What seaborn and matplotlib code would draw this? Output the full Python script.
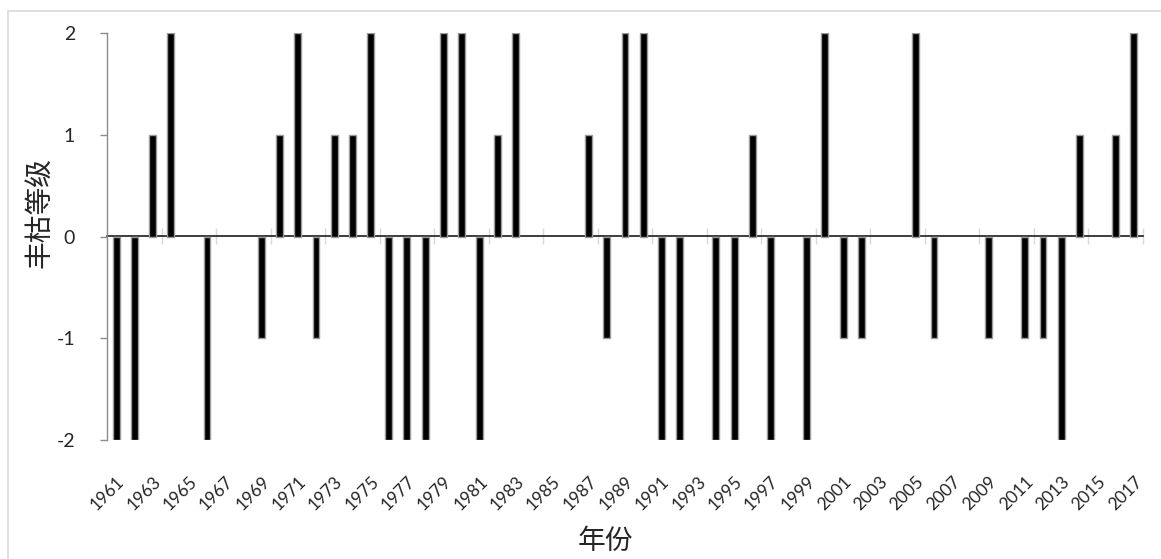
import numpy as np
import pandas as pd
import matplotlib
matplotlib.use("Agg")
import matplotlib.pyplot as plt
import seaborn as sns
from matplotlib.patches import Rectangle

# 数据：1961-2017 年丰枯等级
years = list(range(1961, 2018))
grades = [-2, -2, 1, 2, 0, -2, 0, 0, -1, 1,
          2, -1, 1, 1, 2, -2, -2, -2, 2, 2,
          -2, 1, 2, 0, 0, 0, 1, -1, 2, 2,
          -2, -2, 0, -2, -2, 1, -2, 0, -2, 2,
          -1, -1, 0, 0, 2, -1, 0, 0, -1, 0,
          -1, -1, -2, 1, 0, 1, 2]
y_ticks = [-2, -1, 0, 1, 2]
x_label = "年份"
y_label = "丰枯等级"

df = pd.DataFrame({"year": [str(y) for y in years], "grade": grades})

sns.set_theme(style="white")
plt.rcParams["font.family"] = ["Lato", "Noto Sans CJK SC", "DejaVu Sans"]
plt.rcParams["axes.unicode_minus"] = False

fig = plt.figure(figsize=(11.61, 5.59), dpi=100)
ax = fig.add_axes([107 / 1161, 1 - 440 / 559, (1143 - 107) / 1161, (440 - 33) / 559])

sns.barplot(data=df, x="year", y="grade", color="black", width=0.38,
            edgecolor="#9a9a9a", linewidth=1, saturation=1, ax=ax)

# 零值柱不显示
for p in ax.patches:
    if p.get_height() == 0:
        p.set_visible(False)

ax.set_xlim(-0.5, len(years) - 0.5)
ax.set_ylim(-2, 2)
ax.set_yticks(y_ticks)
ax.tick_params(axis="y", left=True, length=5, width=1, color="#8c8c8c",
               pad=18, labelsize=14)

# 横坐标标签：每隔一年
ax.set_xticks(range(0, len(years), 2))
ax.set_xticklabels(years[::2], rotation=45, ha="right", rotation_mode="anchor",
                   fontsize=12.5)
ax.tick_params(axis="x", bottom=False, length=0, pad=24)

for s in ["top", "right", "bottom"]:
    ax.spines[s].set_visible(False)
ax.spines["left"].set_color("#8c8c8c")
ax.spines["left"].set_linewidth(1)

# 零线，带刻度
sec = ax.secondary_xaxis(0.5)
sec.set_xticks(np.arange(2.5, len(years), 3))
sec.set_xticklabels([])
sec.tick_params(axis="x", direction="inout", length=12, width=1, color="#d9d9d9")
sec.spines["bottom"].set_color("#d9d9d9")
sec.spines["bottom"].set_linewidth(1.5)

ax.set_xlabel("")
ax.set_ylabel("")
fig.text(605 / 1161, 1 - 541 / 559, x_label, ha="center", va="center",
         fontsize=20, family=["Noto Sans CJK SC", "DejaVu Sans"])
fig.text(40 / 1161, 1 - 213 / 559, y_label, ha="center", va="center",
         rotation=90, fontsize=20, family=["Noto Sans CJK SC", "DejaVu Sans"])

# 图表外框
fig.patches.append(Rectangle((8 / 1161, -0.05), 1.2, 1 - 11 / 559 + 0.05,
                             transform=fig.transFigure, fill=False,
                             edgecolor="#d9d9d9", linewidth=1.2))

fig.savefig("out.png", dpi=100)
